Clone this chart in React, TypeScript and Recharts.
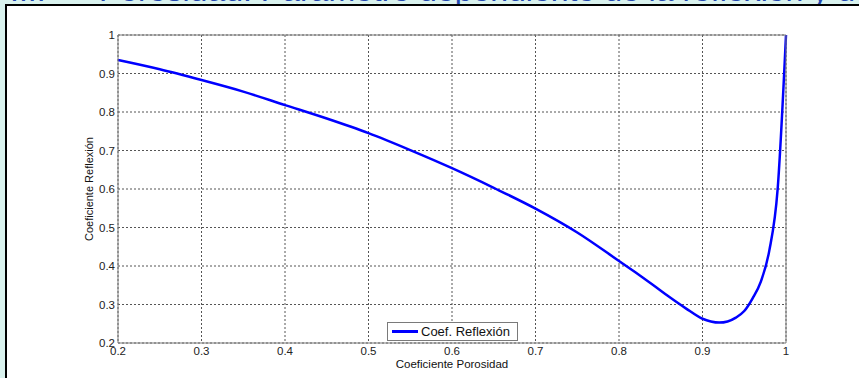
import { LineChart, Line, XAxis, YAxis, CartesianGrid, Legend } from 'recharts';

// Coeficiente de porosidad (eje x) y coeficiente de reflexión (eje y)
const porosidad = [
  0.2, 0.25, 0.3, 0.35, 0.4, 0.45, 0.5, 0.55, 0.6, 0.65, 0.7, 0.75, 0.8, 0.82, 0.84, 0.86, 0.88, 0.9,
  0.91, 0.92, 0.93, 0.94, 0.95, 0.96, 0.97, 0.98, 0.99, 1.0,
];
const reflexion = [
  0.935, 0.911, 0.883, 0.853, 0.818, 0.783, 0.745, 0.701, 0.654, 0.603, 0.549, 0.487, 0.413, 0.383,
  0.352, 0.32, 0.29, 0.263, 0.256, 0.253, 0.256, 0.266, 0.283, 0.316, 0.36, 0.44, 0.6, 1.0,
];
const xTicks = [0.2, 0.3, 0.4, 0.5, 0.6, 0.7, 0.8, 0.9, 1];
const yTicks = [0.2, 0.3, 0.4, 0.5, 0.6, 0.7, 0.8, 0.9, 1];

const titulo = 'III.      Porosidad: Parámetro dependiente de la reflexión y de';

const data = porosidad.map((x, i) => ({ x, y: reflexion[i] }));

const FONT = '"Liberation Sans", Arial, sans-serif';
const AXIS = '#7a7a7a';
const fmt = (v: number) => (v === 1 ? '1' : v.toFixed(1));

function LegendBox() {
  return (
    <div
      style={{
        width: 129,
        height: 17,
        border: `1px solid ${AXIS}`,
        background: '#fff',
        display: 'flex',
        alignItems: 'center',
        fontFamily: FONT,
        fontSize: 13,
        color: '#111',
      }}
    >
      <span style={{ display: 'inline-block', width: 26, height: 2.5, background: '#0000ff', margin: '0 3px 0 4px' }} />
      Coef. Reflexión
    </div>
  );
}

export default function App() {
  return (
    <div
      style={{
        position: 'fixed',
        left: 0,
        top: 0,
        width: 859,
        height: 378,
        overflow: 'hidden',
        background: '#d9f2ee',
      }}
    >
      <svg width={859} height={10} style={{ position: 'absolute', left: 0, top: 0 }}>
        <text x={10} y={1} fontFamily={FONT} fontSize={32} fill="#2448b0" style={{ whiteSpace: 'pre' }}>
          {titulo}
        </text>
      </svg>
      <div
        style={{
          position: 'absolute',
          left: 5,
          top: 4,
          width: 900,
          height: 400,
          background: '#fff',
          borderLeft: '2px solid #000',
          borderTop: '2px solid #000',
        }}
      />
      <div style={{ position: 'absolute', left: 0, top: 0 }}>
        <LineChart width={859} height={378} data={data} margin={{ top: 35, right: 73, bottom: 0, left: 58 }}>
          <CartesianGrid stroke="#555" strokeDasharray="2 2" />
          <XAxis
            dataKey="x"
            type="number"
            domain={[0.2, 1]}
            ticks={xTicks}
            tickFormatter={fmt}
            height={35}
            tickSize={0}
            tickMargin={4}
            stroke={AXIS}
            tick={{ fill: '#222', fontSize: 11.5, fontFamily: FONT }}
            label={{ value: 'Coeficiente Porosidad', position: 'insideBottom', offset: 10, fill: '#111', fontSize: 11.5, fontFamily: FONT }}
          />
          <XAxis
            xAxisId="ticksBottom"
            orientation="bottom"
            mirror
            type="number"
            domain={[0.2, 1]}
            ticks={xTicks}
            tick={false}
            axisLine={false}
            tickSize={5}
            stroke={AXIS}
          />
          <XAxis
            xAxisId="top"
            orientation="top"
            mirror
            type="number"
            domain={[0.2, 1]}
            ticks={xTicks}
            tick={false}
            tickSize={5}
            stroke={AXIS}
          />
          <YAxis
            type="number"
            domain={[0.2, 1]}
            ticks={yTicks}
            tickFormatter={fmt}
            width={60}
            tickSize={0}
            tickMargin={3}
            stroke={AXIS}
            tick={{ fill: '#222', fontSize: 11.5, fontFamily: FONT }}
            label={{
              value: 'Coeficiente Reflexión',
              angle: -90,
              position: 'insideLeft',
              offset: 31,
              fill: '#111',
              fontSize: 11,
              fontFamily: FONT,
              style: { textAnchor: 'middle' },
            }}
          />
          <YAxis
            yAxisId="ticksLeft"
            orientation="left"
            mirror
            type="number"
            domain={[0.2, 1]}
            ticks={yTicks}
            tick={false}
            axisLine={false}
            tickSize={5}
            stroke={AXIS}
          />
          <YAxis
            yAxisId="right"
            orientation="right"
            mirror
            type="number"
            domain={[0.2, 1]}
            ticks={yTicks}
            tick={false}
            tickSize={5}
            stroke={AXIS}
          />
          <Legend
            layout="horizontal"
            verticalAlign="middle"
            align="center"
            content={() => <LegendBox />}
            wrapperStyle={{ position: 'absolute', left: 387, top: 322, width: 131, height: 19, bottom: 'auto' }}
          />
          <Line
            type="monotone"
            dataKey="y"
            stroke="#0000ff"
            strokeWidth={2.5}
            dot={false}
            isAnimationActive={false}
          />
        </LineChart>
      </div>
    </div>
  );
}
